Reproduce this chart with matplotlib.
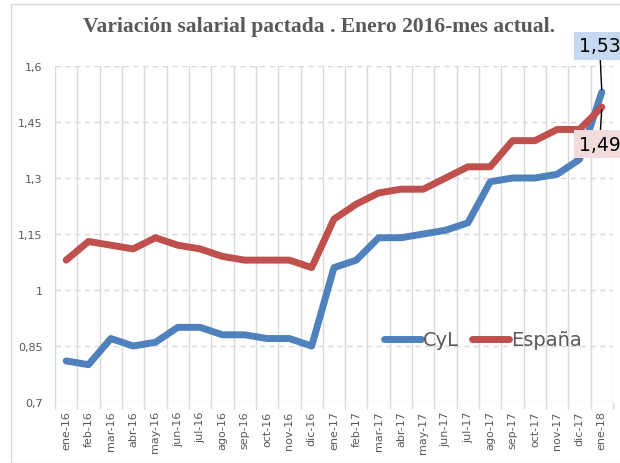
import numpy as np
import matplotlib.pyplot as plt
from matplotlib.patches import Rectangle

meses = ["ene-16", "feb-16", "mar-16", "abr-16", "may-16", "jun-16", "jul-16",
         "ago-16", "sep-16", "oct-16", "nov-16", "dic-16", "ene-17", "feb-17",
         "mar-17", "abr-17", "may-17", "jun-17", "jul-17", "ago-17", "sep-17",
         "oct-17", "nov-17", "dic-17", "ene-18"]
cyl = [0.81, 0.80, 0.87, 0.85, 0.86, 0.90, 0.90, 0.88, 0.88, 0.87, 0.87, 0.85,
       1.06, 1.08, 1.14, 1.14, 1.15, 1.16, 1.18, 1.29, 1.30, 1.30, 1.31, 1.35, 1.53]
espana = [1.08, 1.13, 1.12, 1.11, 1.14, 1.12, 1.11, 1.09, 1.08, 1.08, 1.08, 1.06,
          1.19, 1.23, 1.26, 1.27, 1.27, 1.30, 1.33, 1.33, 1.40, 1.40, 1.43, 1.43, 1.49]
yticks = [0.7, 0.85, 1.0, 1.15, 1.3, 1.45, 1.6]
ylabels = ["0,7", "0,85", "1", "1,15", "1,3", "1,45", "1,6"]

azul = "#4f81bd"
rojo = "#c0504d"
gris = "#595959"

fig = plt.figure(figsize=(6.2, 4.64), dpi=100)
fig.patches.append(Rectangle((11/620, 0), 1, 1 - 5/464, transform=fig.transFigure,
                             fill=False, edgecolor="#d9d9d9", lw=1))
ax = fig.add_axes([55/620, 61/464, 558/620, 336/464])

x = np.arange(len(meses))
ax.plot(x, cyl, color=azul, lw=5, solid_capstyle="round", label="CyL", zorder=3)
ax.plot(x, espana, color=rojo, lw=5, solid_capstyle="round", label="España", zorder=3)

ax.set_xlim(-0.5, len(meses) - 0.5)
ax.set_ylim(0.7, 1.6)
ax.set_yticks(yticks)
ax.set_yticklabels(ylabels, color=gris, fontsize=8)
ax.set_xticks(x)
ax.set_xticklabels(meses, rotation=90, color=gris, fontsize=8)
ax.set_xticks(np.arange(len(meses) + 1) - 0.5, minor=True)
ax.tick_params(axis="y", length=0, pad=9)
ax.tick_params(axis="x", which="major", length=0, pad=6)
ax.tick_params(axis="x", which="minor", length=5, color="#d9d9d9", width=1)

for k in range(len(meses) + 1):
    ax.axvline(k - 0.5, color="#d9d9d9", lw=1, zorder=1)
for v in yticks[1:]:
    ax.axhline(v, color="#d9d9d9", lw=1, ls=(0, (4, 3)), zorder=1)
for s in ax.spines.values():
    s.set_visible(False)
ax.axhline(0.7, color="#d9d9d9", lw=1, zorder=1)

fig.text(0.515, 1 - 27/464, "Variación salarial pactada . Enero 2016-mes actual.",
         ha="center", va="center", fontsize=15.5, fontweight="bold", color=gris,
         family="Liberation Serif")

ax.annotate("1,53", xy=(x[-1], cyl[-1]), xytext=(23.9, 1.654),
            ha="center", va="center", fontsize=13.5, color="black", annotation_clip=False,
            bbox=dict(boxstyle="square,pad=0.25", fc="#c6d9f1", ec="none"),
            arrowprops=dict(arrowstyle="-", color="black", lw=1, shrinkA=0, shrinkB=2))
ax.annotate("1,49", xy=(x[-1], espana[-1]), xytext=(23.9, 1.391),
            ha="center", va="center", fontsize=13.5, color="black", annotation_clip=False,
            bbox=dict(boxstyle="square,pad=0.25", fc="#f2dcdb", ec="none"),
            arrowprops=dict(arrowstyle="-", color="black", lw=1, shrinkA=0, shrinkB=2))

leg = ax.legend(loc="center", bbox_to_anchor=(0.767, 0.185), ncol=2, frameon=False,
                fontsize=14, handlelength=1.9, handletextpad=0.1, columnspacing=0.7,
                labelcolor=gris)

fig.savefig("out.png", dpi=100)
